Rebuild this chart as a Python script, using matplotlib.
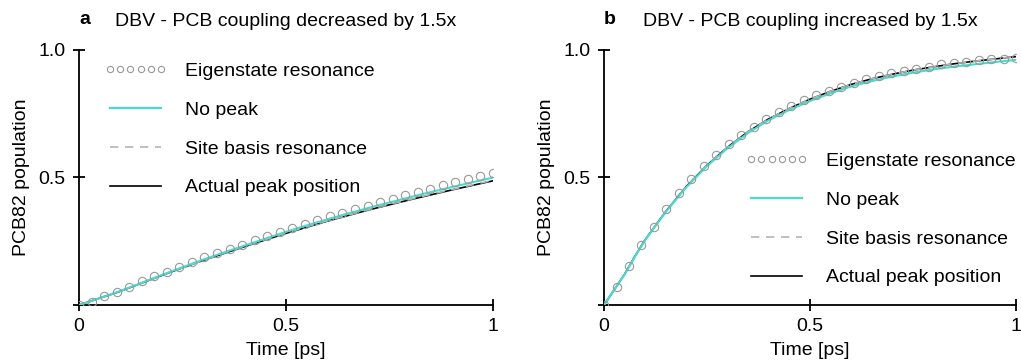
import numpy as np
import matplotlib
matplotlib.use("Agg")
import matplotlib.pyplot as plt

plt.rcParams['font.family'] = ['Liberation Sans', 'DejaVu Sans']

# marker times (ps) for the eigenstate-resonance curves
t_marks = np.linspace(0, 1, 34)

eig_dec = [0.0, 0.013, 0.035, 0.052, 0.072, 0.094, 0.114, 0.131, 0.150, 0.169,
           0.187, 0.205, 0.221, 0.237, 0.254, 0.271, 0.288, 0.302, 0.318, 0.332,
           0.348, 0.362, 0.375, 0.390, 0.403, 0.417, 0.430, 0.443, 0.456, 0.469,
           0.481, 0.493, 0.505, 0.516]
eig_inc = [0.0, 0.072, 0.154, 0.235, 0.307, 0.375, 0.438, 0.493, 0.545, 0.587,
           0.630, 0.667, 0.699, 0.731, 0.756, 0.780, 0.804, 0.824, 0.841, 0.856,
           0.872, 0.885, 0.898, 0.908, 0.919, 0.927, 0.935, 0.944, 0.950, 0.954,
           0.959, 0.963, 0.966, 0.970]

# line curves
t_line = [0, 0.025, 0.05, 0.075, 0.1, 0.15, 0.2, 0.25, 0.3, 0.35, 0.4, 0.45, 0.5,
          0.55, 0.6, 0.65, 0.7, 0.75, 0.8, 0.85, 0.9, 0.95, 1.0]

nopeak_dec = [0, 0.013, 0.027, 0.041, 0.055, 0.086, 0.118, 0.148, 0.178, 0.206,
              0.233, 0.260, 0.287, 0.312, 0.336, 0.359, 0.381, 0.402, 0.423, 0.443,
              0.462, 0.481, 0.500]
site_dec = [0, 0.013, 0.027, 0.040, 0.054, 0.085, 0.116, 0.146, 0.175, 0.203,
            0.230, 0.256, 0.282, 0.307, 0.330, 0.352, 0.374, 0.394, 0.414, 0.434,
            0.452, 0.471, 0.489]
actual_dec = [0, 0.013, 0.027, 0.040, 0.054, 0.085, 0.116, 0.146, 0.175, 0.202,
              0.229, 0.255, 0.281, 0.305, 0.329, 0.351, 0.373, 0.393, 0.413, 0.432,
              0.451, 0.469, 0.487]

nopeak_inc = [0, 0.060, 0.120, 0.190, 0.255, 0.365, 0.462, 0.545, 0.615, 0.675,
              0.725, 0.765, 0.800, 0.830, 0.857, 0.878, 0.896, 0.911, 0.924, 0.935,
              0.944, 0.953, 0.961]
site_inc = [0, 0.060, 0.121, 0.191, 0.256, 0.367, 0.465, 0.548, 0.619, 0.680,
            0.730, 0.771, 0.807, 0.838, 0.865, 0.887, 0.905, 0.921, 0.934, 0.946,
            0.956, 0.965, 0.974]
actual_inc = site_inc

panels = [
    ('a', 'DBV - PCB coupling decreased by 1.5x', eig_dec, nopeak_dec, site_dec, actual_dec,
     [0.0774, 0.1575, 0.4055, 0.7044], (0.018, 1.02)),
    ('b', 'DBV - PCB coupling increased by 1.5x', eig_inc, nopeak_inc, site_inc, actual_inc,
     [0.5916, 0.1575, 0.4035, 0.7044], (0.30, 0.667)),
]

fs = 14

fig = plt.figure(figsize=(10.21, 3.62), dpi=100)

for letter, title, eig, nopeak, site, actual, pos, leg_anchor in panels:
    ax = fig.add_axes(pos)
    ax.plot(t_line, actual, color='black', lw=1.2, label='Actual peak position', zorder=2)
    ax.plot(t_line, site, color='#b4b4b4', lw=1.2, ls=(0, (5, 4)),
            label='Site basis resonance', zorder=3)
    ax.plot(t_line, nopeak, color='#3ee0d2', lw=1.5, label='No peak', zorder=4)
    ax.plot(t_marks, eig, ls='none', marker='o', ms=6, mfc='none', mec='#999999',
            mew=0.8, label='Eigenstate resonance', zorder=5)

    ax.set_xlim(0, 1)
    ax.set_ylim(0, 1)
    ax.set_xticks([0, 0.5, 1])
    ax.set_xticklabels(['0', '0.5', '1'])
    ax.set_yticks([0, 0.5, 1])
    ax.set_yticklabels(['', '0.5', '1.0'])
    ax.tick_params(direction='inout', length=9, width=1.3, labelsize=fs, pad=5)
    for s in ['top', 'right']:
        ax.spines[s].set_visible(False)
    for s in ['left', 'bottom']:
        ax.spines[s].set_linewidth(1.3)

    ax.set_xlabel('Time [ps]', fontsize=fs, labelpad=5)
    ax.set_ylabel('PCB82 population', fontsize=fs, labelpad=6)
    ax.set_title(title, fontsize=fs, pad=17)
    ax.text(0.0, 1.12, letter, transform=ax.transAxes, fontsize=fs,
            fontweight='bold', ha='left', va='center')

    handles, labels = ax.get_legend_handles_labels()
    order = [3, 2, 1, 0]
    ax.legend([handles[i] for i in order], [labels[i] for i in order],
              loc='upper left', bbox_to_anchor=leg_anchor, frameon=False,
              fontsize=fs, handlelength=3.25, handletextpad=0.93, labelspacing=1.09,
              numpoints=6, markerscale=0.75)

fig.savefig('out.png', dpi=100)
